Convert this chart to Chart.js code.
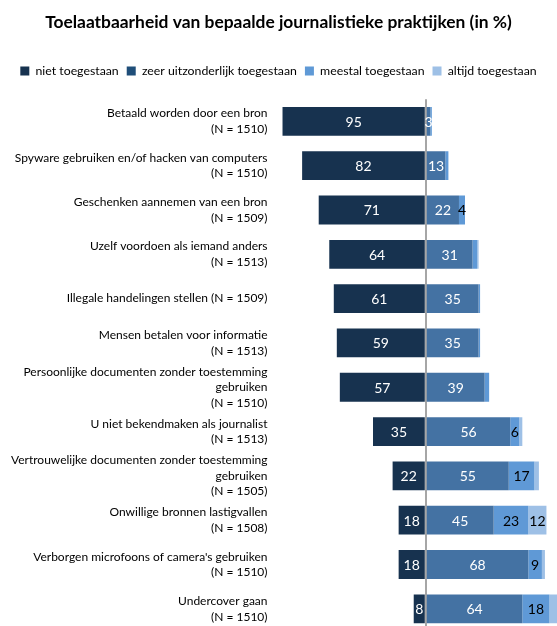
<!DOCTYPE html>
<html lang="nl">
<head>
    <meta charset="UTF-8">
    <title>Toelaatbaarheid journalistieke praktijken</title>
    <script src="https://cdn.jsdelivr.net/npm/chart.js"></script>
    <style>
        html, body { margin: 0; padding: 0; overflow: hidden; background: #fff; }
        .chart-container { width: 557px; height: 640px; }
    </style>
</head>
<body>
    <div class="chart-container">
        <canvas id="praktijkChart"></canvas>
    </div>

    <script>
        const categories = [
            ['Betaald worden door een bron', '(N = 1510)'],
            ['Spyware gebruiken en/of hacken van computers', '(N = 1510)'],
            ['Geschenken aannemen van een bron', '(N = 1509)'],
            ['Uzelf voordoen als iemand anders', '(N = 1513)'],
            ['Illegale handelingen stellen (N = 1509)'],
            ['Mensen betalen voor informatie', '(N = 1513)'],
            ['Persoonlijke documenten zonder toestemming', 'gebruiken', '(N = 1510)'],
            ['U niet bekendmaken als journalist', '(N = 1513)'],
            ['Vertrouwelijke documenten zonder toestemming', 'gebruiken', '(N = 1505)'],
            ['Onwillige bronnen lastigvallen', '(N = 1508)'],
            ["Verborgen microfoons of camera's gebruiken", '(N = 1510)'],
            ['Undercover gaan', '(N = 1510)']
        ];

        const nietToegestaan   = [95, 82, 71, 64, 61, 59, 57, 35, 22, 18, 18, 8];
        const zeerUitzonderlijk = [3, 13, 22, 31, 35, 35, 39, 56, 55, 45, 68, 64];
        const meestalToegestaan = [1, 2, 4, 3, 1, 1, 3, 6, 17, 23, 9, 18];
        const altijdToegestaan  = [0, 0, 0, 1, 0, 0, 0, 2, 3, 12, 2, 5];

        const seriesNames = ['niet toegestaan', 'zeer uitzonderlijk toegestaan', 'meestal toegestaan', 'altijd toegestaan'];
        const barColors = ['#17324F', '#4472A3', '#5F99D6', '#9EC0E6'];
        const legendColors = ['#17324F', '#1F4E79', '#5F99D6', '#9EC0E6'];
        const labelColors = ['#ffffff', '#ffffff', '#000000', '#000000'];
        // smallest value that still gets a number in its segment
        const minLabel = [1, 1, 4, 10];

        const fontFamily = 'Lato, "Open Sans", sans-serif';

        // writes the value in the middle of each segment
        const segmentLabels = {
            id: 'segmentLabels',
            afterDatasetsDraw(chart) {
                const ctx = chart.ctx;
                ctx.save();
                ctx.font = '14px ' + fontFamily;
                ctx.textAlign = 'center';
                ctx.textBaseline = 'middle';
                chart.data.datasets.forEach((ds, i) => {
                    const meta = chart.getDatasetMeta(i);
                    meta.data.forEach((bar, j) => {
                        const v = Math.abs(ds.data[j]);
                        if (v < minLabel[i]) return;
                        ctx.fillStyle = labelColors[i];
                        ctx.fillText(String(v), (bar.x + bar.base) / 2, bar.y + 1);
                    });
                });
                ctx.restore();
            }
        };

        // extra room between legend and bars
        const legendMargin = {
            id: 'legendMargin',
            beforeInit(chart) {
                const fit = chart.legend.fit;
                chart.legend.fit = function () {
                    fit.bind(chart.legend)();
                    this.height += 12;
                };
            }
        };

        const allSeries = [nietToegestaan.map(v => -v), zeerUitzonderlijk, meestalToegestaan, altijdToegestaan];

        const ctx = document.getElementById('praktijkChart').getContext('2d');
        new Chart(ctx, {
            type: 'bar',
            data: {
                labels: categories,
                datasets: allSeries.map((d, i) => ({
                    label: seriesNames[i],
                    data: d,
                    backgroundColor: barColors[i],
                    borderWidth: 0,
                    barPercentage: 0.65,
                    categoryPercentage: 1
                }))
            },
            options: {
                indexAxis: 'y',
                responsive: true,
                maintainAspectRatio: false,
                animation: false,
                layout: { padding: { left: 0, right: 0, top: 0, bottom: 9 } },
                plugins: {
                    title: {
                        display: true,
                        text: 'Toelaatbaarheid van bepaalde journalistieke praktijken (in %)',
                        color: '#000',
                        font: { family: fontFamily, size: 17.4, weight: 'bold' },
                        padding: { top: 12, bottom: 24 }
                    },
                    legend: {
                        position: 'top',
                        labels: {
                            color: '#000',
                            font: { family: fontFamily, size: 12.3 },
                            boxWidth: 9,
                            boxHeight: 9,
                            padding: 8,
                            generateLabels(chart) {
                                const items = Chart.defaults.plugins.legend.labels.generateLabels(chart);
                                items.forEach((it, i) => {
                                    it.fillStyle = legendColors[i];
                                    it.strokeStyle = legendColors[i];
                                    it.lineWidth = 0;
                                });
                                return items;
                            }
                        }
                    },
                    tooltip: { enabled: false }
                },
                scales: {
                    x: {
                        stacked: true,
                        min: -97,
                        max: 87,
                        z: 1,
                        ticks: { display: false },
                        border: { display: false },
                        grid: {
                            drawTicks: false,
                            lineWidth: 2,
                            color: c => c.tick && c.tick.value === 0 ? '#A6A6A6' : 'rgba(0,0,0,0)'
                        }
                    },
                    y: {
                        stacked: true,
                        border: { display: false },
                        grid: { display: false, drawTicks: false },
                        ticks: {
                            color: '#000',
                            padding: 12,
                            autoSkip: false,
                            font: { family: fontFamily, size: 12, lineHeight: 1.3 }
                        },
                        afterFit(scale) {
                            scale.width = 279.5;
                            scale.paddingTop = 0;
                            scale.paddingBottom = 0;
                        }
                    }
                }
            },
            plugins: [segmentLabels, legendMargin]
        });
    </script>
</body>
</html>
